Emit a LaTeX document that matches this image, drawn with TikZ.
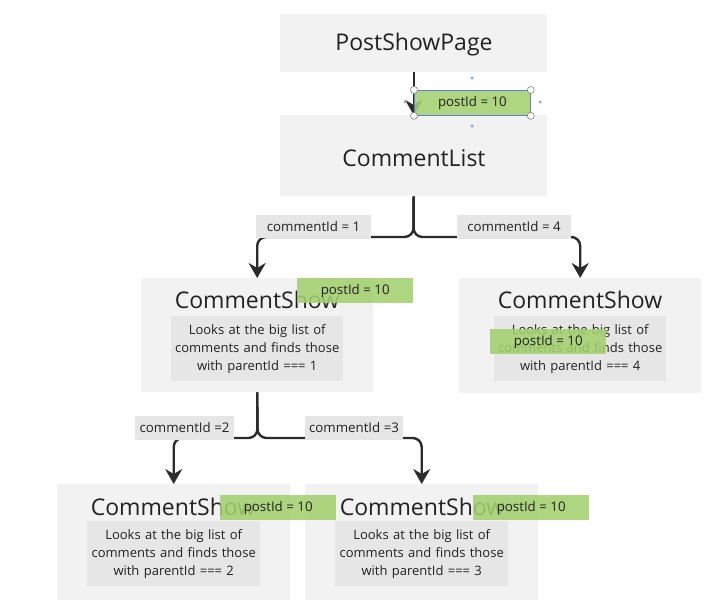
\documentclass[tikz,border=0pt]{standalone}
\usepackage{fontspec}
\setmainfont{Open Sans}
\usetikzlibrary{arrows.meta}
\definecolor{boxbg}{HTML}{F2F2F2}
\definecolor{innerbg}{HTML}{E6E6E6}
\definecolor{lblbg}{HTML}{E6E6E6}
\definecolor{grn}{HTML}{A3D06E}
\definecolor{ln}{HTML}{2B2B2B}
\definecolor{txt}{HTML}{222222}
\definecolor{selblue}{HTML}{5B7FD1}
\definecolor{dotblue}{HTML}{9AAAE0}
\begin{document}
\begin{tikzpicture}[x=1pt,y=-1pt,
  outerbox/.style={fill=boxbg, inner sep=0pt, anchor=north west},
  innerbox/.style={fill=innerbg, inner sep=0pt, anchor=north west, text width=#1, align=center, font=\fontsize{13}{18}\selectfont, text=txt},
  titletext/.style={font=\fontsize{23}{26}\selectfont, text=txt, inner sep=0pt},
  lbl/.style={fill=lblbg, inner sep=0pt, minimum height=23pt, font=\fontsize{13.3}{15}\selectfont, text=txt},
  grnbox/.style={fill=grn, fill opacity=0.88, text opacity=1, inner sep=0pt, minimum height=25pt, minimum width=116pt, font=\fontsize{13.3}{15}\selectfont, text=txt, anchor=north west},
  conn/.style={draw=ln, line width=2.4pt, rounded corners=9pt, -{Stealth[length=15pt,width=17pt,inset=5pt]}},
  handle/.style={circle, draw=gray, fill=white, line width=0.6pt, inner sep=0pt, minimum size=7pt},
  sdot/.style={circle, fill=dotblue, inner sep=0pt, minimum size=3.5pt}
]
\useasboundingbox[fill=white] (0,0) rectangle (727,611);

% boxes
\node[outerbox, minimum width=267pt, minimum height=58pt] (psp) at (280,14) {};
\node[titletext] (psptxt) at (414,45) {PostShowPage};

\node[outerbox, minimum width=267pt, minimum height=81pt] (cl) at (280,115) {};
\node[titletext] (cltxt) at (414,158) {CommentList};

\node[outerbox, minimum width=232pt, minimum height=114pt] (cs1) at (141,278) {};
\node[titletext] (cs1t) at (257,300) {CommentShow};
\node[innerbox=172pt, minimum height=65pt] (cs1i) at (171,316) {Looks at the big list of\\comments and finds those\\with parentId === 1};

\node[outerbox, minimum width=242pt, minimum height=115pt] (cs4) at (459,278) {};
\node[titletext] (cs4t) at (580,300) {CommentShow};
\node[innerbox=172pt, minimum height=65pt] (cs4i) at (494,316) {Looks at the big list of\\comments and finds those\\with parentId === 4};

\node[outerbox, minimum width=233pt, minimum height=116pt] (cs2) at (57,484) {};
\node[titletext] (cs2t) at (173,507) {CommentShow};
\node[innerbox=173pt, minimum height=65pt] (cs2i) at (87,521) {Looks at the big list of\\comments and finds those\\with parentId === 2};

\node[outerbox, minimum width=233pt, minimum height=116pt] (cs3) at (305,484) {};
\node[titletext] (cs3t) at (422,507) {CommentShow};
\node[innerbox=173pt, minimum height=65pt] (cs3i) at (335,521) {Looks at the big list of\\comments and finds those\\with parentId === 3};

% connectors
\coordinate (j1) at (413.5,237);
\coordinate (j2) at (257.5,438);
\draw[conn] (psp.south) -- (cl.north);
\draw[conn] (cl.south) -- (j1) -| (cs1.north);
\draw[conn] (cl.south) -- (j1) -| (cs4.north);
\draw[conn] (cs1.south) -- (j2) -| (cs2.north);
\draw[conn] (cs1.south) -- (j2) -| (cs3.north);

% labels
\node[lbl, minimum width=115pt] (l1) at (313.5,226.5) {commentId = 1};
\node[lbl, minimum width=114pt] (l4) at (514,226.5) {commentId = 4};
\node[lbl, minimum width=99pt, minimum height=24pt] (l2) at (184.5,428) {commentId =2};
\node[lbl, minimum width=98pt, minimum height=24pt] (l3) at (354,428) {commentId =3};

% green postId boxes
\node[grnbox, draw=selblue, line width=0.8pt] (g0) at (414,90) {postId = 10};
\node[grnbox] (g1) at (297,278) {postId = 10};
\node[grnbox] (g4) at (490,329) {postId = 10};
\node[grnbox] (g2) at (220,495) {postId = 10};
\node[grnbox] (g3) at (473,495) {postId = 10};

% selection handles
\node[handle] (h1) at (g0.north west) {};
\node[handle] (h2) at (g0.north east) {};
\node[handle] (h3) at (g0.south west) {};
\node[handle] (h4) at (g0.south east) {};
\node[sdot] (d1) at (472,78) {};
\node[sdot] (d2) at (472,126) {};
\node[sdot] (d3) at (405,102) {};
\node[sdot] (d4) at (540,102) {};
\end{tikzpicture}
\end{document}
